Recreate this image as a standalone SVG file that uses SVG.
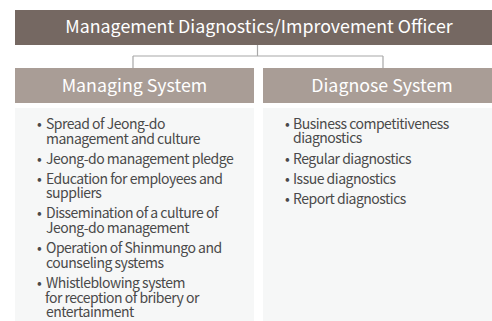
<svg xmlns="http://www.w3.org/2000/svg" width="492" height="321" viewBox="0 0 492 321">
<style>
.title{font-family:"Noto Sans CJK KR","Noto Sans",sans-serif;fill:#ffffff;text-anchor:middle;font-size:17.8px}
.item{font-family:"Noto Sans CJK KR","Noto Sans",sans-serif;font-size:14px;letter-spacing:-0.5px;fill:#4a4a4a}
.conn{fill:none;stroke:#a8a8a8;stroke-width:1.2}
</style>
<rect width="492" height="321" fill="#ffffff"/>
<g id="connectors">
<path class="conn" d="M257.5 45 V56 M133 56 H383 M133 56 V68 M383 56 V68"/>
</g>
<g id="officer">
<rect x="15" y="10" width="477" height="35" fill="#756862"/>
<text class="title" x="259" y="33">Management Diagnostics/Improvement Officer</text>
</g>
<g id="managing">
<rect x="15" y="68" width="239" height="35" fill="#a99d96"/>
<text class="title" x="134.5" y="92">Managing System</text>
<rect x="15" y="108" width="239" height="213" fill="#f6f7f7"/>
<g class="item">
<text x="37" y="129">•<tspan x="46">Spread of Jeong-do</tspan></text>
<text x="46" y="144">management and culture</text>
<text x="37" y="164">•<tspan x="46">Jeong-do management pledge</tspan></text>
<text x="37" y="184">•<tspan x="46">Education for employees and</tspan></text>
<text x="46" y="198">suppliers</text>
<text x="37" y="218">•<tspan x="46">Dissemination of a culture of</tspan></text>
<text x="46" y="233">Jeong-do management</text>
<text x="37" y="253">•<tspan x="46">Operation of Shinmungo and</tspan></text>
<text x="46" y="268">counseling systems</text>
<text x="37" y="288">•<tspan x="46">Whistleblowing system</tspan></text>
<text x="45" y="303">for reception of bribery or</text>
<text x="46" y="317">entertainment</text>
</g>
</g>
<g id="diagnose">
<rect x="263" y="68" width="229" height="35" fill="#a99d96"/>
<text class="title" x="382" y="92">Diagnose System</text>
<rect x="263" y="108" width="229" height="213" fill="#f6f7f7"/>
<g class="item">
<text x="285" y="129">•<tspan x="293">Business competitiveness</tspan></text>
<text x="293" y="143">diagnostics</text>
<text x="285" y="164">•<tspan x="293">Regular diagnostics</tspan></text>
<text x="285" y="184">•<tspan x="293">Issue diagnostics</tspan></text>
<text x="285" y="204">•<tspan x="293">Report diagnostics</tspan></text>
</g>
</g>
</svg>
